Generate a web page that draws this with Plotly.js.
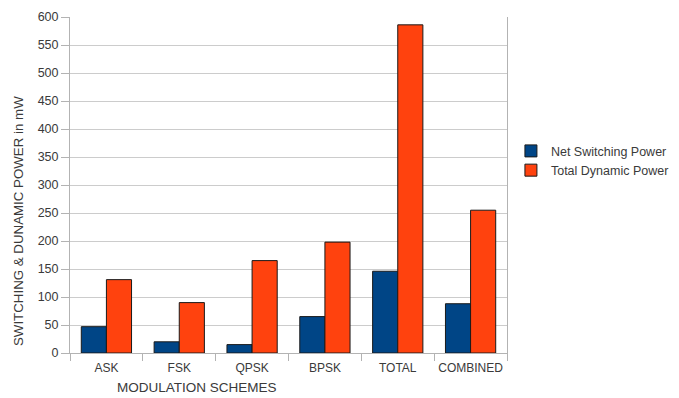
<!DOCTYPE html>
<html>
<head>
<meta charset="utf-8">
<script src="https://cdn.plot.ly/plotly-3.0.1.min.js"></script>
<style>html,body{margin:0;padding:0;background:#fff;}#chart{width:679px;height:398px;}</style>
</head>
<body>
<div id="chart"></div>
<script>
var categories = ["ASK", "FSK", "QPSK", "BPSK", "TOTAL", "COMBINED"];
var netSwitching = [47, 20, 15, 65, 146, 88];
var totalDynamic = [131, 90, 165, 198, 586, 255];
var seriesNames = ["Net Switching Power", "Total Dynamic Power"];
var yTitle = "SWITCHING & DUNAMIC POWER in mW";
var xTitle = "MODULATION SCHEMES";

var fam = "Liberation Sans, Arial, sans-serif";
var txt = "#3a3a3a";
var data = [
  {type: "bar", x: categories, y: netSwitching, name: seriesNames[0],
   marker: {color: "#004586", line: {color: "#1a1a1a", width: 1}}},
  {type: "bar", x: categories, y: totalDynamic, name: seriesNames[1],
   marker: {color: "#ff420e", line: {color: "#1a1a1a", width: 1}}}
];
var layout = {
  width: 679, height: 398,
  margin: {l: 70, r: 172, t: 17, b: 45, autoexpand: false},
  paper_bgcolor: "#fff", plot_bgcolor: "#fff",
  font: {family: fam, size: 12, color: txt},
  barmode: "group", bargap: 0.31, bargroupgap: 0,
  showlegend: true,
  legend: {x: 1.009, y: 0.645, xanchor: "left", yanchor: "top", bgcolor: "rgba(0,0,0,0)",
           font: {family: fam, size: 12.5, color: txt}, tracegroupgap: 0},
  xaxis: {type: "category", tickson: "boundaries", ticks: "outside", ticklen: 7, tickcolor: "#b3b3b3",
          ticklabelstandoff: 4, tickangle: 0, automargin: false,
          showline: true, linecolor: "#b3b3b3", linewidth: 1, showgrid: false,
          tickfont: {family: fam, size: 12, color: txt}},
  yaxis: {range: [0, 600], dtick: 50, ticks: "outside", ticklen: 8, tickcolor: "#b3b3b3",
          showline: true, linecolor: "#b3b3b3", linewidth: 1, mirror: true, automargin: false,
          showgrid: true, gridcolor: "#cccccc", zeroline: false,
          tickfont: {family: fam, size: 12.5, color: txt}},
  annotations: [
    {text: xTitle, xref: "paper", yref: "paper", x: (197 - 70) / 437, y: -0.075,
     xanchor: "center", yanchor: "top", showarrow: false,
     font: {family: fam, size: 13.5, color: txt}},
    {text: yTitle, xref: "paper", yref: "paper", x: (18 - 70) / 437, y: (353 - 221) / 336,
     xanchor: "center", yanchor: "middle", textangle: -90, showarrow: false,
     font: {family: fam, size: 13.3, color: txt}}
  ]
};
Plotly.newPlot("chart", data, layout, {displayModeBar: false, staticPlot: true});
</script>
</body>
</html>
